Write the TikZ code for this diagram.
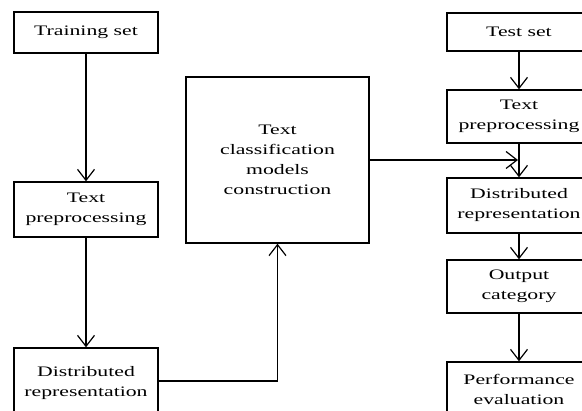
\documentclass[tikz,border=0pt]{standalone}
\usepackage{fontspec}
\setmainfont{Liberation Serif}[FakeStretch=1.5]
\usetikzlibrary{arrows.meta}
\begin{document}
\begin{tikzpicture}[x=1pt,y=-1pt,
  box/.style={draw,line width=1.4pt,inner sep=0pt,align=center,
    font=\fontsize{14.5}{20}\selectfont},
  conn/.style={line width=1.2pt,-{Straight Barb[length=11pt,width=17pt,line width=1.2pt]}}]
\useasboundingbox (0,0) rectangle (582,411);
\clip (0,0) rectangle (582,411);
% left column
\node[box,minimum width=144pt,minimum height=41pt] (train) at (86,32.5) {Training set};
\node[box,minimum width=144pt,minimum height=55pt] (tp1) at (86,209.5) {Text\\preprocessing};
\node[box,minimum width=144pt,minimum height=70pt] (dr1) at (86,383) {Distributed\\representation};
% middle
\node[box,minimum width=183pt,minimum height=166pt] (ctc) at (277.5,160) {Text\\classification\\models\\construction};
% right column
\node[box,minimum width=144pt,minimum height=38pt] (test) at (519,32) {Test set};
\node[box,minimum width=144pt,minimum height=53pt] (tp2) at (519,116.5) {Text\\preprocessing};
\node[box,minimum width=144pt,minimum height=55pt] (dr2) at (519,205.5) {Distributed\\representation};
\node[box,minimum width=144pt,minimum height=53pt] (oc) at (519,286.5) {Output\\category};
\node[box,minimum width=144pt,minimum height=54pt] (pe) at (519,389) {Performance\\evaluation};
% connectors
\draw[conn] (train) -- (tp1);
\draw[conn] (tp1) -- (dr1);
\draw[conn] (dr1.east |- 0,381) -| (ctc.south);
\coordinate (mid) at (518,160);
\draw[conn] (ctc.east |- mid) -- (mid);
\draw[conn] (test) -- (tp2);
\draw[conn] (tp2) -- (dr2);
\draw[conn] (dr2) -- (oc);
\draw[conn] (oc) -- (pe);
\end{tikzpicture}
\end{document}
